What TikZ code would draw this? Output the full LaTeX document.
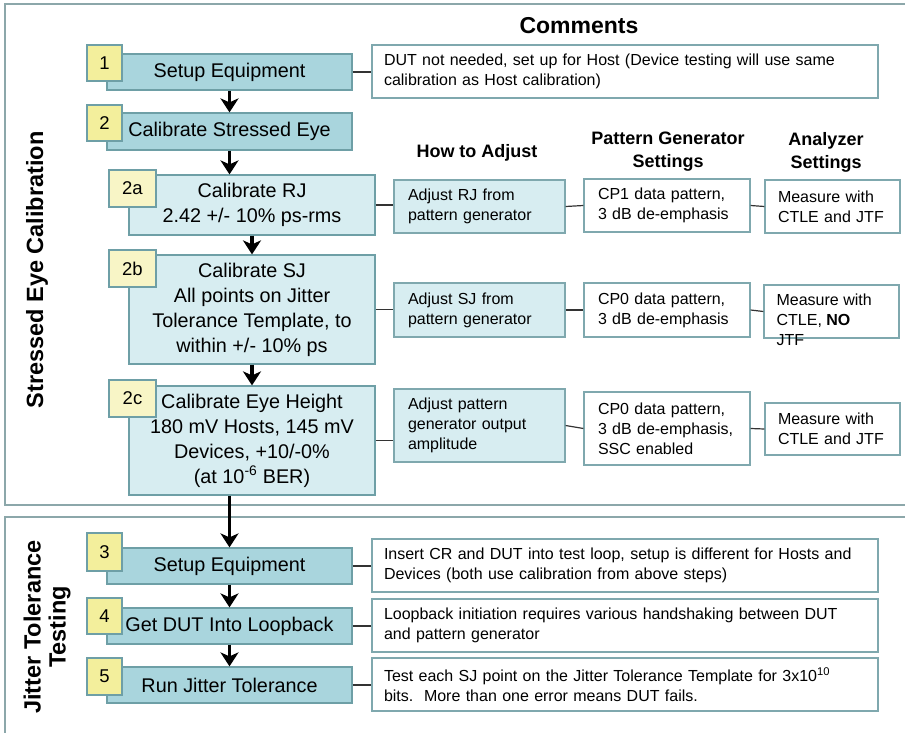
\documentclass[tikz,border=0pt]{standalone}
\usepackage{fontspec}
\setmainfont{Liberation Sans}
\usetikzlibrary{arrows.meta,positioning}
\definecolor{framecol}{HTML}{8CA7AA}
\definecolor{stepline}{HTML}{6E9FA6}
\definecolor{stepfill}{HTML}{A9D5DD}
\definecolor{subfill}{HTML}{D7EDF1}
\definecolor{badgefill}{HTML}{F3EF9C}
\definecolor{subbadgefill}{HTML}{F8F5C6}
\definecolor{noteline}{HTML}{7FA8AE}
\tikzset{
  stepnode/.style={draw=stepline,fill=stepfill,line width=1.2pt,minimum width=245pt,
    minimum height=36pt,inner sep=0pt,align=center,font=\fontsize{19.8}{25}\selectfont},
  substepnode/.style={stepnode,fill=subfill,minimum width=246pt},
  badgenode/.style={draw=stepline,fill=badgefill,line width=1.2pt,minimum width=35pt,
    minimum height=36pt,inner sep=0pt,anchor=north west,font=\fontsize{18.5}{20}\selectfont},
  subbadgenode/.style={badgenode,fill=subbadgefill,minimum width=47pt,minimum height=37pt},
  notenode/.style={draw=noteline,fill=white,line width=1.2pt,minimum height=53pt,
    inner xsep=12pt,inner ysep=0pt,text width=482pt,align=left,font=\fontsize{16}{20}\selectfont},
  hownode/.style={notenode,fill=subfill,text width=143pt,inner xsep=14pt},
  pgnode/.style={notenode,text width=138pt,inner xsep=14pt},
  anode/.style={notenode,text width=109pt,inner xsep=13pt},
  headnode/.style={align=center,font=\fontsize{18}{23}\selectfont\bfseries},
  sidenode/.style={align=center,rotate=90,font=\fontsize{23.5}{25}\selectfont\bfseries},
  flowarrow/.style={-{Stealth[length=14pt,width=18pt,inset=4pt]},line width=3.5pt,black},
  linkline/.style={line width=1.2pt,black!80},
  every picture/.style={line cap=butt,line join=miter}
}
\begin{document}
\begin{tikzpicture}[x=1pt,y=-1pt]
  \useasboundingbox (0,0) rectangle (905,733);
  \clip (0,0) rectangle (905,733);
  \draw[framecol,line width=2.5pt] (5,4) rectangle (925,505);
  \draw[framecol,line width=2.5pt] (5,517) rectangle (925,760);

  \node[headnode,font=\fontsize{23}{25}\selectfont\bfseries] (comhead) at (579,26) {Comments};
  \node[headnode] (howhead) at (477,153) {How to Adjust};
  \node[headnode] (pghead) at (668,152) {Pattern Generator\\Settings};
  \node[headnode] (ahead) at (826,152) {Analyzer\\Settings};
  \node[sidenode] (sidecal) at (37,270) {Stressed Eye Calibration};
  \node[sidenode] (sidejt) at (47,627) {Jitter Tolerance\\Testing};

  \node[stepnode] (s1) at (229.5,72) {Setup Equipment};
  \node[stepnode,minimum height=37pt] (s2) at (229.5,131.5) {Calibrate Stressed Eye};
  \node[substepnode,minimum height=60pt] (s2a) at (252,205) {Calibrate RJ\\2.42 +/- 10\% ps-rms};
  \node[substepnode,minimum height=109pt] (s2b) at (252,309.5)
    {Calibrate SJ\\All points on Jitter\\Tolerance Template, to\\within +/- 10\% ps};
  \node[substepnode,minimum height=109pt] (s2c) at (252,440.5)
    {Calibrate Eye Height\\180 mV Hosts, 145 mV\\Devices, +10/-0\%\\(at 10\textsuperscript{-6} BER)};
  \node[stepnode] (s3) at (229.5,566) {Setup Equipment};
  \node[stepnode] (s4) at (229.5,626) {Get DUT Into Loopback};
  \node[stepnode] (s5) at (229.5,685) {Run Jitter Tolerance};

  \node[badgenode] (b1) at ([xshift=-20pt,yshift=9pt]s1.north west) {1};
  \node[badgenode] (b2) at ([xshift=-20pt,yshift=8pt]s2.north west) {2};
  \node[subbadgenode] (b2a) at ([xshift=-20pt,yshift=5pt]s2a.north west) {2a};
  \node[subbadgenode] (b2b) at ([xshift=-20pt,yshift=5pt]s2b.north west) {2b};
  \node[subbadgenode] (b2c) at ([xshift=-20pt,yshift=6pt]s2c.north west) {2c};
  \node[badgenode,minimum height=38pt] (b3) at ([xshift=-20pt,yshift=15pt]s3.north west) {3};
  \node[badgenode] (b4) at ([xshift=-20pt,yshift=10pt]s4.north west) {4};
  \node[badgenode,minimum height=37pt] (b5) at ([xshift=-20pt,yshift=9pt]s5.north west) {5};

  \node[notenode] (c1) at (625,71.5)
    {DUT not needed, set up for Host (Device testing will use same\\calibration as Host calibration)};
  \node[notenode] (c3) at (625,565.5)
    {Insert CR and DUT into test loop, setup is different for Hosts and\\Devices (both use calibration from above steps)};
  \node[notenode] (c4) at (625,625.5)
    {Loopback initiation requires various handshaking between DUT\\and pattern generator};
  \node[notenode] (c5) at (625,684.5)
    {Test each SJ point on the Jitter Tolerance Template for 3x10\textsuperscript{10}\\bits.\ \ More than one error means DUT fails.};

  \node[hownode] (h2a) at (479.5,206.5) {Adjust RJ from\\pattern generator};
  \node[pgnode] (p2a) at (667,205.5) {CP1 data pattern,\\3 dB de-emphasis};
  \node[anode] (a2a) at (832.5,206.5) {Measure with\\CTLE and JTF};
  \node[hownode,minimum height=54pt] (h2b) at (479.5,310) {Adjust SJ from\\pattern generator};
  \node[pgnode,minimum height=54pt] (p2b) at (667,310) {CP0 data pattern,\\3 dB de-emphasis};
  \node[anode] (a2b) at (831.5,311.5) {};
  \node[anchor=north west,align=left,inner sep=0pt,font=\fontsize{16}{20}\selectfont] (a2btext)
    at ([xshift=13pt,yshift=-9pt]a2b.north west) {Measure with\\CTLE, \textbf{NO}\\JTF};
  \node[hownode,minimum height=73pt] (h2c) at (479.5,425.5) {Adjust pattern\\generator output\\amplitude};
  \node[pgnode,minimum height=73pt] (p2c) at (667,428.5) {CP0 data pattern,\\3 dB de-emphasis,\\SSC enabled};
  \node[anode,minimum height=52pt] (a2c) at (832.5,429) {Measure with\\CTLE and JTF};

  \draw[linkline] (s1.east) -- (s1.east -| c1.west);
  \draw[linkline] (s3.east) -- (s3.east -| c3.west);
  \draw[linkline] (s4.east) -- (s4.east -| c4.west);
  \draw[linkline] (s5.east) -- (s5.east -| c5.west);
  \draw[linkline] (s2a.east) -- (s2a.east -| h2a.west);
  \draw[linkline] (h2a.east) -- (p2a.west);
  \draw[linkline] (p2a.east) -- (a2a.west);
  \draw[linkline] (s2b.east) -- (s2b.east -| h2b.west);
  \draw[linkline] (h2b.east) -- (p2b.west);
  \draw[linkline] (p2b.east) -- (a2b.west);
  \draw[linkline] (s2c.east) -- (s2c.east -| h2c.west);
  \draw[linkline] (h2c.east) -- (p2c.west);
  \draw[linkline] (p2c.east) -- (a2c.west);

  \draw[flowarrow] (s1) -- (s2);
  \draw[flowarrow] (s2.south) -- (s2.south |- s2a.north);
  \draw[flowarrow] (s2a) -- (s2b);
  \draw[flowarrow] (s2b) -- (s2c);
  \draw[flowarrow] (s2c.south -| s3.north) -- (s3.north);
  \draw[flowarrow] (s3) -- (s4);
  \draw[flowarrow] (s4) -- (s5);
\end{tikzpicture}
\end{document}
